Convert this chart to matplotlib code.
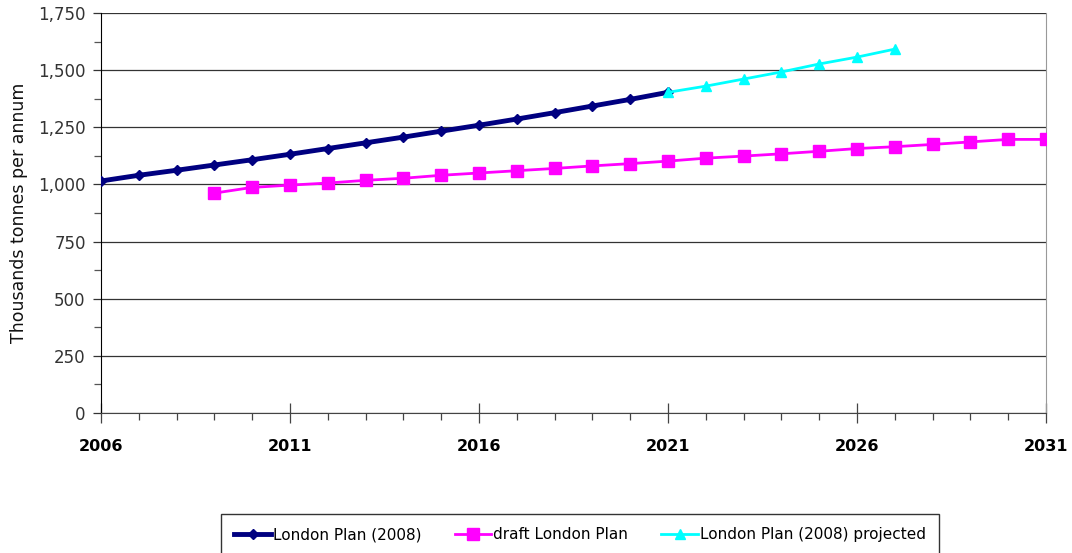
import matplotlib.pyplot as plt
from matplotlib.ticker import MultipleLocator, FuncFormatter

# waste arisings, thousands of tonnes per annum
plan_2008_years = list(range(2006, 2022))
plan_2008 = [1015, 1040, 1062, 1085, 1108, 1132, 1157, 1182, 1207, 1233,
             1259, 1286, 1314, 1343, 1372, 1403]

draft_years = list(range(2009, 2032))
draft_plan = [962, 987, 997, 1006, 1018, 1027, 1040, 1050, 1060, 1070,
              1081, 1091, 1102, 1115, 1124, 1134, 1145, 1157, 1165, 1175,
              1186, 1197, 1197]

projected_years = list(range(2021, 2028))
projected = [1403, 1430, 1461, 1492, 1527, 1557, 1592]

year_ticks = [2006, 2011, 2016, 2021, 2026, 2031]

fig = plt.figure(figsize=(10.72, 5.53), dpi=100)
ax = fig.add_axes([101 / 1072, 1 - 413 / 553, 945 / 1072, 400 / 553])

ax.plot(plan_2008_years, plan_2008, color="#000080", lw=3.5, marker="D",
        ms=5.5, label="London Plan (2008)", zorder=3)
ax.plot(draft_years, draft_plan, color="#ff00ff", lw=2, marker="s",
        ms=9, label="draft London Plan", zorder=3)
ax.plot(projected_years, projected, color="#00ffff", lw=2, marker="^",
        ms=7, label="London Plan (2008) projected", zorder=4)

ax.set_xlim(2006, 2031)
ax.set_ylim(0, 1750)
ax.set_xticks(year_ticks, labels=[str(y) for y in year_ticks],
              fontsize=11.5, fontweight="bold", color="black")
ax.xaxis.set_minor_locator(MultipleLocator(1))
ax.yaxis.set_major_locator(MultipleLocator(250))
ax.yaxis.set_minor_locator(MultipleLocator(125))
ax.yaxis.set_major_formatter(FuncFormatter(lambda v, p: f"{int(v):,}"))

ax.grid(axis="y", which="major", color="#333333", lw=0.9)
ax.set_axisbelow(True)
ax.spines["top"].set_visible(False)
ax.spines["right"].set_color("#999999")
ax.spines["left"].set_color("black")
ax.spines["bottom"].set_color("#444444")

ax.tick_params(axis="y", which="major", length=6, width=0.9, colors="#333333",
               labelsize=12, labelcolor="#333333", pad=5)
ax.tick_params(axis="y", which="minor", length=5, width=0.9, colors="#555555")
ax.tick_params(axis="x", which="major", direction="inout", length=14,
               width=0.9, colors="#444444", labelcolor="black", pad=12)
ax.tick_params(axis="x", which="minor", direction="out", length=5,
               width=0.9, colors="#444444")

ax.set_ylabel("Thousands tonnes per annum", fontsize=12.5, color="#111111",
              labelpad=7)

leg = fig.legend(loc="upper center", bbox_to_anchor=(580 / 1072, 1 - 506 / 553),
                 ncol=3, frameon=True, fancybox=False, edgecolor="black",
                 fontsize=11, handlelength=2.4, columnspacing=2.2,
                 borderpad=0.9, handletextpad=0.1)
leg.get_frame().set_linewidth(1.0)

fig.savefig("out.png", dpi=100)
